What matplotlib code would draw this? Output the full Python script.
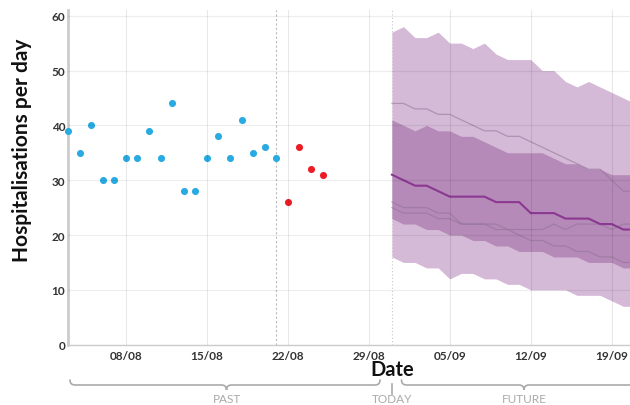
import matplotlib
matplotlib.use("Agg")
import matplotlib.pyplot as plt
import matplotlib.dates as mdates
from matplotlib.path import Path
from matplotlib.patches import PathPatch
import pandas as pd

# ---------------- data ----------------
past_dates = pd.date_range("2021-08-03", "2021-08-21", freq="D")
past_values = [39, 35, 40, 30, 30, 34, 34, 39, 34, 44, 28, 28, 34, 38, 34, 41, 35, 36, 34]

recent_dates = pd.date_range("2021-08-22", "2021-08-25", freq="D")
recent_values = [26, 36, 32, 31]

fc_dates = pd.date_range("2021-08-31", "2021-09-21", freq="D")
outer_hi = [57, 58, 56, 56, 57, 55, 55, 54, 55, 53, 52, 52, 52, 50, 50, 48, 47, 48, 47, 46, 45, 44]
inner_hi = [41, 40, 39, 40, 39, 39, 38, 38, 37, 36, 35, 35, 35, 35, 34, 33, 33, 32, 32, 31, 31, 31]
median   = [31, 30, 29, 29, 28, 27, 27, 27, 27, 26, 26, 26, 24, 24, 24, 23, 23, 23, 22, 22, 21, 21]
inner_lo = [23, 22, 22, 21, 21, 20, 20, 19, 19, 18, 18, 17, 17, 17, 16, 16, 16, 15, 15, 15, 14, 14]
outer_lo = [16, 15, 15, 14, 14, 12, 13, 13, 12, 12, 11, 11, 10, 10, 10, 10, 9, 9, 9, 8, 7, 7]
traj_a   = [44, 44, 43, 43, 42, 42, 41, 40, 39, 39, 38, 38, 37, 36, 35, 34, 33, 32, 32, 30, 28, 28]
traj_b   = [26, 25, 25, 25, 24, 24, 22, 22, 22, 22, 21, 21, 21, 21, 22, 21, 22, 22, 22, 21, 22, 22]
traj_c   = [25, 24, 24, 24, 23, 23, 22, 22, 22, 21, 21, 20, 19, 19, 18, 18, 17, 17, 16, 16, 15, 15]

tick_dates = pd.to_datetime(["2021-08-08", "2021-08-15", "2021-08-22", "2021-08-29",
                             "2021-09-05", "2021-09-12", "2021-09-19"])
tick_labels = ["08/08", "15/08", "22/08", "29/08", "05/09", "12/09", "19/09"]
y_ticks = [0, 10, 20, 30, 40, 50, 60]
last_obs = pd.Timestamp("2021-08-21")
today = pd.Timestamp("2021-08-31")

# ---------------- figure ----------------
plt.rcParams['font.family'] = ['Lato', 'DejaVu Sans']
W, H = 630, 406
fig = plt.figure(figsize=(W / 100, H / 100), dpi=100)
ax = fig.add_axes([68 / W, 1 - 345.7 / H, (W - 68) / W, (345.7 - 11.2) / H])

ax.set_ylim(0, 61)
x_left = mdates.date2num(pd.Timestamp("2021-08-03"))
x_right = mdates.date2num(pd.Timestamp("2021-09-19")) + 1.58
ax.set_xlim(x_left, x_right)

# bands
ax.fill_between(fc_dates, outer_lo, outer_hi, color='#d5bad7', lw=0, zorder=2)
ax.fill_between(fc_dates, inner_lo, inner_hi, color='#b68ab8', lw=0, zorder=3)
for tr in (traj_a, traj_b, traj_c):
    ax.plot(fc_dates, tr, color='#8e7294', lw=0.9, alpha=0.55, zorder=4)
ax.plot(fc_dates, median, color='#8a3891', lw=1.5, zorder=5)

# points
ax.scatter(past_dates, past_values, s=26, color='#29abe2', lw=0, zorder=6, clip_on=False)
ax.scatter(recent_dates, recent_values, s=26, color='#ed1c24', lw=0, zorder=6, clip_on=False)

# vertical reference lines
ax.axvline(last_obs, color='#bbbbbb', lw=0.8, ls=(0, (2, 2)), zorder=1)
ax.axvline(today, color='#c8c8c8', lw=0.8, ls=(0, (1, 2)), zorder=1)

# grid (drawn on top, faint)
for y in y_ticks:
    ax.axhline(y, color='#000000', alpha=0.07, lw=0.9, zorder=7)
for d in tick_dates:
    ax.axvline(d, color='#000000', alpha=0.09, lw=0.8, zorder=7)

# axes styling
ax.set_yticks(y_ticks)
ax.set_xticks(tick_dates)
ax.set_xticklabels(tick_labels)
ax.tick_params(axis='both', length=0, labelsize=8.5, labelcolor='#333333')
ax.tick_params(axis='y', pad=2)
ax.tick_params(axis='x', pad=4)
for lab in ax.get_xticklabels() + ax.get_yticklabels():
    lab.set_fontweight('bold')
for s in ('top', 'right'):
    ax.spines[s].set_visible(False)
ax.spines['left'].set_color('#cccccc')
ax.spines['left'].set_linewidth(2)
ax.spines['bottom'].set_color('#cccccc')
ax.spines['bottom'].set_linewidth(1)

fig.text(22 / W, 1 - 150 / H, "Hospitalisations per day", rotation=90,
         ha='center', va='center', fontsize=15, fontweight='bold', color='#111111')
fig.text(392 / W, 1 - 370 / H, "Date", ha='center', va='center',
         fontsize=14.5, fontweight='bold', color='#111111')


# ---------------- braces ----------------
def fx(x, y):
    return (x / W, 1 - y / H)


def brace(x0, x1, xc, ytop=381.0, ymid=386.0, ybot=391.0, r=5):
    verts = [fx(x0, ytop), fx(x0, ymid), fx(x0 + r, ymid),
             fx(xc - r, ymid), fx(xc, ymid), fx(xc, ybot),
             fx(xc, ymid), fx(xc + r, ymid),
             fx(x1 - r, ymid), fx(x1, ymid), fx(x1, ytop)]
    codes = [Path.MOVETO, Path.CURVE3, Path.CURVE3,
             Path.LINETO, Path.CURVE3, Path.CURVE3,
             Path.CURVE3, Path.CURVE3,
             Path.LINETO, Path.CURVE3, Path.CURVE3]
    p = PathPatch(Path(verts, codes), transform=fig.transFigure, fill=False,
                  edgecolor='#aaaaaa', lw=1.2, capstyle='round')
    fig.add_artist(p)


brace(70, 380, 226.5)
brace(401.5, 636, 524)
fig.add_artist(plt.Line2D([392 / W, 392 / W], [1 - 385 / H, 1 - 395 / H],
                          transform=fig.transFigure, color='#aaaaaa', lw=1.2))
for txt, x in (("PAST", 226.5), ("TODAY", 392), ("FUTURE", 524)):
    fig.text(x / W, 1 - 400 / H, txt, ha='center', va='center',
             fontsize=8.5, color='#aaaaaa')

fig.savefig("out.png", dpi=100)
